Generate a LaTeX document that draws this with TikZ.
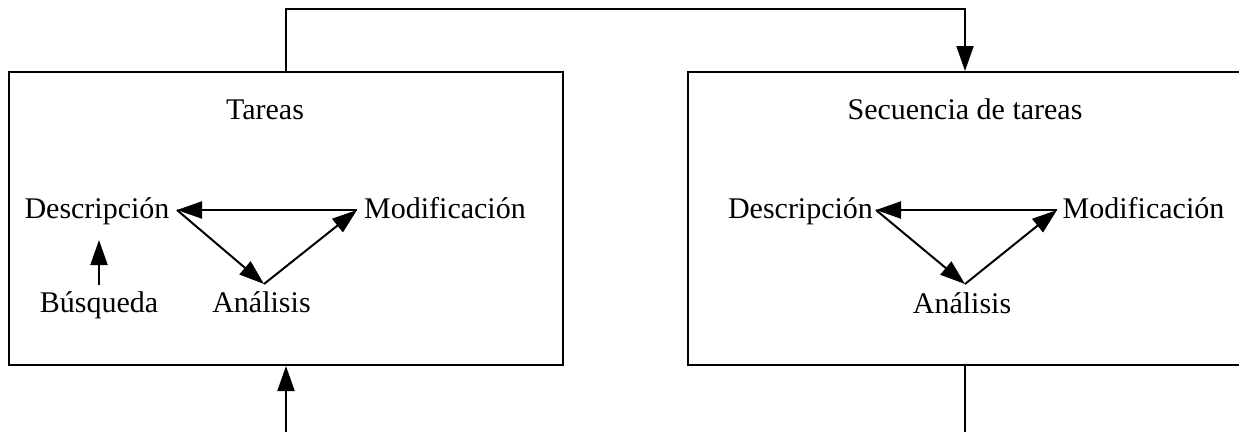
\documentclass[tikz,border=0pt]{standalone}
\usepackage{fontspec}
\setmainfont{Liberation Serif}
\usetikzlibrary{arrows.meta}
\begin{document}
\begin{tikzpicture}[x=1pt,y=-1pt,
  lbl/.style={anchor=base,inner sep=0pt,font=\fontsize{30}{36}\selectfont},
  panel/.style={draw,line width=2pt,minimum width=554pt,minimum height=293pt,inner sep=0pt},
  conn/.style={line width=2pt},
  arr/.style={line width=2pt,-{Triangle[length=25pt,width=17pt]}}]
\useasboundingbox (0,0) rectangle (1239,432);
\clip (0,0) rectangle (1239,432);
% panels
\node[panel] (b1) at (286,218.5) {};
\node[panel] (b2) at (965,218.5) {};
% left panel texts
\node[lbl] (t1) at (265,119) {Tareas};
\node[lbl] (d1) at (97,218) {Descripción};
\node[lbl] (m1) at (445,218) {Modificación};
\node[lbl] (s1) at (99,312) {Búsqueda};
\node[lbl] (a1) at (261.5,312) {Análisis};
% right panel texts
\node[lbl] (t2) at (965,119) {Secuencia de tareas};
\node[lbl] (d2) at (800.5,218) {Descripción};
\node[lbl] (m2) at (1143.5,218) {Modificación};
\node[lbl] (a2) at (962,313) {Análisis};
% vertices
\coordinate (d1v) at (177,210);
\coordinate (m1v) at (357,210);
\coordinate (a1v) at (264,284);
\coordinate (s1v) at (99,285);
\coordinate (d1b) at (99,240);
\coordinate (d2v) at (876,210);
\coordinate (m2v) at (1057,210);
\coordinate (a2v) at (965,284);
% left cycle
\draw[arr] (m1v) -- (d1v);
\draw[arr] (d1v) -- (a1v);
\draw[arr] (a1v) -- (m1v);
\draw[arr] (s1v) -- (d1b);
% right cycle
\draw[arr] (m2v) -- (d2v);
\draw[arr] (d2v) -- (a2v);
\draw[arr] (a2v) -- (m2v);
% outer connectors
\draw[arr] (b1.north) -- ++(0,-62) -| (b2.north);
\coordinate (inL) at (286,432);
\coordinate (outR) at (965,432);
\draw[arr] (inL) -- (b1.south);
\draw[conn] (b2.south) -- (outR);
\end{tikzpicture}
\end{document}
